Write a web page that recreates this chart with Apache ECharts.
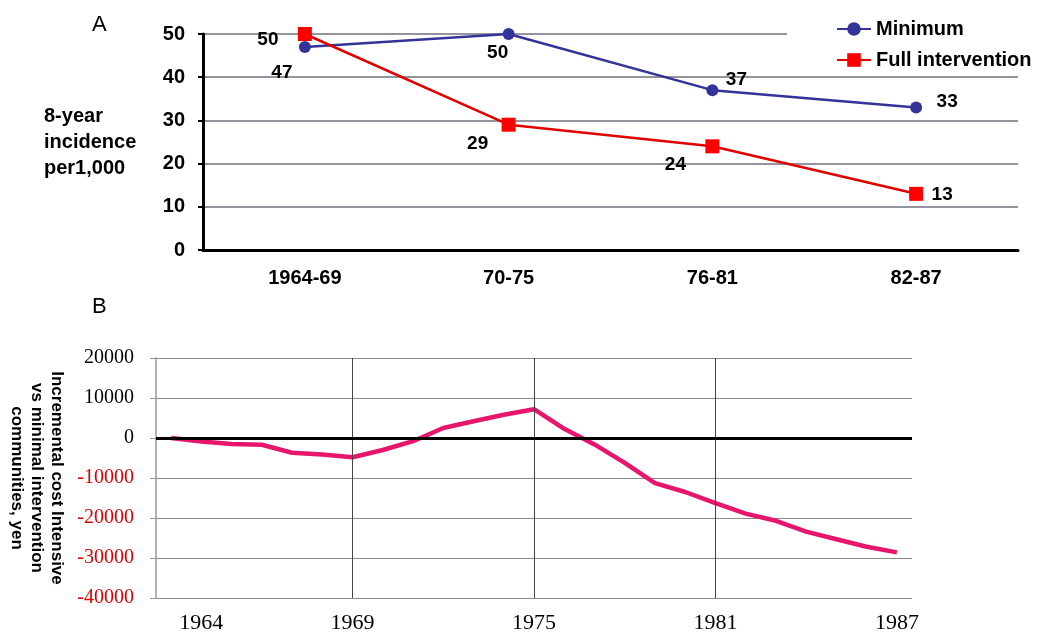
<!DOCTYPE html>
<html lang="en">
<head>
    <meta charset="UTF-8">
    <title>Incidence and incremental cost</title>
    <script src="https://cdn.jsdelivr.net/npm/echarts@6/dist/echarts.min.js"></script>
</head>
<style>
    body{margin:0;background:#fff;}
    #tu{width:1043px;height:635px;}
</style>
<body>
<div id="tu"></div>
<script>
    // panel A
    var periods=['1964-69','70-75','76-81','82-87'];
    var minimum=[47,50,37,33];
    var fullIntervention=[50,29,24,13];
    // panel B
    var years=['1963','1964','1965','1966','1967','1968','1969','1970','1971','1972','1973','1974','1975',
        '1976','1977','1978','1979','1980','1981','1982','1983','1984','1985','1986','1987'];
    var incrementalCost=[0,-900,-1500,-1700,-3700,-4100,-4800,-3000,-800,2500,4200,5800,7200,
        2300,-1600,-6200,-11300,-13500,-16300,-18900,-20700,-23400,-25300,-27200,-28600];
    var yearLabels=['1964','1969','1975','1981','1987'];
    var guideYears=['1969','1975','1981'];

    // where the value labels sit around each marker (panel A)
    var minOffsets=[[-23,26],[-11,19],[24,-10],[31,-6]];
    var fullOffsets=[[-37,6],[-31,19],[-37,18],[26,1]];

    var sans='"Liberation Sans", Arial, sans-serif';
    var serif='"Liberation Serif", "Times New Roman", serif';

    function withLabels(values,offsets){
        return values.map(function (v,i) {
            return {value:v,label:{offset:offsets[i]}};
        });
    }

    var tu=echarts.init(document.getElementById('tu'));
    var option={
        animation:false,
        graphic:[
            {type:'text',left:92,top:14,style:{text:'A',font:'22px '+sans,fill:'#000'}},
            {type:'text',left:92,top:296,style:{text:'B',font:'22px '+sans,fill:'#000'}}
        ],
        legend:{
            data:['Minimum','Full intervention'],
            orient:'vertical',
            left:787,
            top:14,
            padding:[5,10,5,49],
            backgroundColor:'#fff',
            itemWidth:34,
            itemHeight:17,
            itemGap:11,
            textStyle:{fontFamily:sans,fontWeight:'bold',fontSize:20,color:'#000'}
        },
        grid:[
            {left:203,right:25,top:34,height:216,outerBoundsMode:'none'},
            {left:156,right:131,top:358,height:240,outerBoundsMode:'none'}
        ],
        xAxis:[
            {
                gridIndex:0,
                type:'category',
                data:periods,
                axisLine:{lineStyle:{color:'#000',width:3}},
                axisTick:{show:false},
                axisLabel:{margin:18,fontFamily:sans,fontWeight:'bold',fontSize:20,color:'#000'}
            },
            {
                gridIndex:1,
                type:'category',
                data:years,
                boundaryGap:true,
                axisLine:{show:false},
                axisTick:{show:false},
                axisLabel:{
                    margin:14,
                    fontFamily:serif,
                    fontSize:22,
                    color:'#000',
                    interval:function (i,v) { return yearLabels.indexOf(v)>=0; }
                }
            }
        ],
        yAxis:[
            {
                gridIndex:0,
                type:'value',
                min:0,
                max:50,
                interval:10,
                name:'8-year\nincidence\nper1,000',
                nameLocation:'middle',
                nameRotate:0,
                nameGap:159,
                nameTextStyle:{fontFamily:sans,fontWeight:'bold',fontSize:20,color:'#000',
                    align:'left',verticalAlign:'middle',lineHeight:26,padding:[18,0,0,0]},
                axisLine:{show:true,lineStyle:{color:'#000',width:3}},
                axisTick:{show:true,length:5,lineStyle:{color:'#000',width:2}},
                axisLabel:{margin:18,fontFamily:sans,fontWeight:'bold',fontSize:20,color:'#000'},
                splitLine:{lineStyle:{color:'#70707f',width:1.5}}
            },
            {
                gridIndex:1,
                type:'value',
                min:-40000,
                max:20000,
                interval:10000,
                name:'Incremental cost Intensive\nvs minimal intervention\ncommunities, yen',
                nameLocation:'middle',
                nameRotate:-90,
                nameGap:88,
                nameTextStyle:{fontFamily:sans,fontWeight:'bold',fontSize:17,color:'#000',lineHeight:20},
                axisLine:{show:true,lineStyle:{color:'#999',width:1.5}},
                axisTick:{show:true,length:6,lineStyle:{color:'#999'}},
                axisLabel:{
                    margin:22,
                    fontFamily:serif,
                    fontSize:20,
                    formatter:function (v) { return String(v); },
                    color:function (v) { return Number(v)<0 ? '#e00000' : '#000'; }
                },
                splitLine:{lineStyle:{color:'#8a8a8a',width:1}}
            }
        ],
        series:[
            {
                name:'Minimum',
                type:'line',
                xAxisIndex:0,
                yAxisIndex:0,
                symbol:'circle',
                symbolSize:12,
                itemStyle:{color:'#333399'},
                lineStyle:{color:'#333399',width:2.5},
                label:{show:true,position:'inside',fontFamily:sans,fontWeight:'bold',fontSize:19,color:'#000'},
                data:withLabels(minimum,minOffsets)
            },
            {
                name:'Full intervention',
                type:'line',
                xAxisIndex:0,
                yAxisIndex:0,
                symbol:'rect',
                symbolSize:14,
                itemStyle:{color:'#ff0000'},
                lineStyle:{color:'#e00000',width:2.5},
                label:{show:true,position:'inside',fontFamily:sans,fontWeight:'bold',fontSize:19,color:'#000'},
                data:withLabels(fullIntervention,fullOffsets)
            },
            {
                name:'Incremental cost',
                type:'line',
                xAxisIndex:1,
                yAxisIndex:1,
                showSymbol:false,
                lineStyle:{color:'#e8156d',width:4.5},
                data:incrementalCost,
                markLine:{
                    silent:true,
                    symbol:'none',
                    label:{show:false},
                    data:guideYears.map(function (y) {
                        return {xAxis:y,lineStyle:{color:'#444',width:1,type:'solid'}};
                    }).concat([{yAxis:0,lineStyle:{color:'#000',width:3,type:'solid'}}])
                },
                z:3
            }
        ]
    };
    tu.setOption(option);
</script>
</body>
</html>
